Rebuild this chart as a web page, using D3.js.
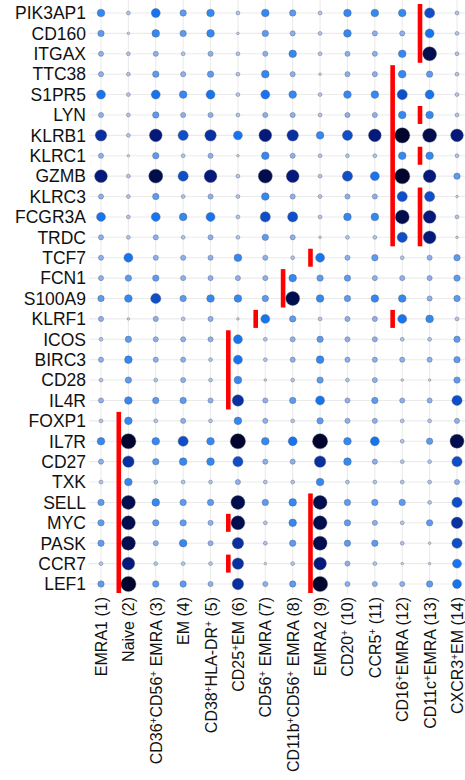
<!DOCTYPE html>
<html>
<head>
<meta charset="utf-8">
<script src="https://cdn.jsdelivr.net/npm/d3@7"></script>
<style>
  html, body { margin: 0; padding: 0; background: #fff; }
  svg { display: block; font-family: "Liberation Sans", Arial, sans-serif; }
</style>
</head>
<body>
<div id="chart"></div>
<script>
// Marker genes (rows, top to bottom)
const genes = ["PIK3AP1", "CD160", "ITGAX", "TTC38", "S1PR5", "LYN", "KLRB1", "KLRC1",
  "GZMB", "KLRC3", "FCGR3A", "TRDC", "TCF7", "FCN1", "S100A9", "KLRF1", "ICOS", "BIRC3",
  "CD28", "IL4R", "FOXP1", "IL7R", "CD27", "TXK", "SELL", "MYC", "PASK", "CCR7", "LEF1"];

// Clusters (columns); "⁺" is drawn as a superscript plus
const clusters = ["EMRA1 (1)", "Naive (2)", "CD36⁺CD56⁺ EMRA (3)", "EM (4)",
  "CD38⁺HLA-DR⁺ (5)", "CD25⁺EM (6)", "CD56⁺ EMRA (7)", "CD11b⁺CD56⁺ EMRA (8)",
  "EMRA2 (9)", "CD20⁺ (10)", "CCR5⁺ (11)", "CD16⁺EMRA (12)", "CD11c⁺EMRA (13)",
  "CXCR3⁺EM (14)"];

// Expression level per gene (0 = low .. 10 = high)
const levels = [
  [4,1,5,3,4,1,4,3,1,4,4,4,6,1],   // PIK3AP1
  [3,0,4,3,4,0,3,2,1,4,2,2,5,1],   // CD160
  [2,1,2,1,2,1,2,4,1,2,2,4,9,1],   // ITGAX
  [2,1,3,2,3,1,4,2,0,2,2,4,3,1],   // TTC38
  [5,1,5,4,5,1,5,4,1,4,4,6,5,1],   // S1PR5
  [2,1,3,2,2,1,2,2,1,2,2,4,4,1],   // LYN
  [7,1,8,6,7,5,8,7,4,6,8,10,9,8],  // KLRB1
  [2,0,3,1,2,0,4,2,1,1,1,4,4,1],   // KLRC1
  [8,1,9,6,8,1,9,8,1,6,5,10,8,3],  // GZMB
  [2,1,3,1,2,1,4,2,1,2,2,6,6,0],   // KLRC3
  [5,1,5,4,5,1,6,6,1,4,4,9,8,1],   // FCGR3A
  [2,1,2,1,2,1,3,2,0,1,1,6,8,0],   // TRDC
  [2,5,2,2,2,4,2,1,5,2,3,1,2,3],   // TCF7
  [2,3,3,2,2,2,2,4,3,3,2,2,2,3],   // FCN1
  [3,4,6,3,4,4,3,9,4,3,4,4,2,3],   // S100A9
  [2,0,2,1,2,0,5,3,1,2,2,5,4,1],   // KLRF1
  [1,3,2,2,2,5,1,2,3,2,2,1,1,3],   // ICOS
  [2,4,2,2,1,5,1,2,4,2,2,2,2,3],   // BIRC3
  [1,3,1,2,1,4,0,1,3,1,2,0,0,3],   // CD28
  [2,4,3,3,2,7,2,3,5,2,3,2,2,6],   // IL4R
  [1,4,1,2,1,4,2,1,3,2,2,1,1,2],   // FOXP1
  [4,10,4,6,4,10,4,5,10,4,5,1,3,9],// IL7R
  [2,7,3,4,4,6,2,2,7,4,2,1,1,6],   // CD27
  [1,4,1,1,1,2,1,1,4,1,1,1,1,2],   // TXK
  [3,9,4,3,3,9,3,4,9,3,3,3,1,6],   // SELL
  [3,9,3,3,2,9,1,4,9,3,2,1,3,7],   // MYC
  [3,9,2,4,2,7,1,3,9,3,3,1,0,6],   // PASK
  [1,8,1,1,1,7,0,1,8,2,1,0,0,5],   // CCR7
  [3,10,3,3,2,7,2,3,10,2,2,2,3,5]  // LEF1
];

// Red markers: cluster index, first gene, last gene
const markCluster = [12, 11, 12, 12, 12, 8, 7, 6, 11, 5, 1, 5, 5, 8];
const markFrom = ["PIK3AP1", "TTC38", "LYN", "KLRC1", "KLRC3", "TCF7", "FCN1", "KLRF1", "KLRF1", "ICOS", "FOXP1", "MYC", "CCR7", "SELL"];
const markTo   = ["ITGAX", "TRDC", "LYN", "KLRC1", "TRDC", "TCF7", "S100A9", "KLRF1", "KLRF1", "IL4R", "LEF1", "MYC", "CCR7", "LEF1"];

const W = 465, H = 780;
const svg = d3.select("#chart").append("svg").attr("width", W).attr("height", H);

const x = d3.scalePoint().domain(d3.range(clusters.length)).range([101, 457]);
const y = d3.scalePoint().domain(genes).range([13, 584]);

const rScale = d3.scaleLinear().domain([0, 10]).range([1.3, 7.6]);
const color = d3.scaleLinear()
  .domain([0, 1, 2, 3, 4, 5, 6, 7, 8, 9, 10])
  .range(["#c9d3ec", "#b2c4ee", "#8daff0", "#5c9bf0", "#3388f2", "#1675ee",
          "#0e4ec8", "#0830a0", "#04197a", "#020d4e", "#01052e"]);

// grid
const grid = svg.append("g");
grid.selectAll("line.h").data(genes).join("line")
  .attr("x1", 89).attr("x2", W).attr("y1", d => y(d)).attr("y2", d => y(d))
  .attr("stroke", "#ebebeb").attr("stroke-width", 1.1);
grid.selectAll("line.v").data(x.domain()).join("line")
  .attr("y1", 0).attr("y2", 594).attr("x1", d => x(d)).attr("x2", d => x(d))
  .attr("stroke", "#ebebeb").attr("stroke-width", 1.1);

// dots
const cells = [];
levels.forEach((row, i) => row.forEach((v, j) => cells.push({ gene: genes[i], col: j, v })));
svg.append("g").selectAll("circle").data(cells).join("circle")
  .attr("cx", d => x(d.col)).attr("cy", d => y(d.gene))
  .attr("r", d => rScale(d.v))
  .attr("fill", d => color(d.v))
  .attr("stroke", "#5a5f70").attr("stroke-opacity", 0.7).attr("stroke-width", 0.6);

// red marker bars
svg.append("g").selectAll("rect").data(markCluster).join("rect")
  .attr("x", d => x(d) - 9.6 - 2.3)
  .attr("width", 4.6)
  .attr("y", (d, i) => y(markFrom[i]) - 9)
  .attr("height", (d, i) => y(markTo[i]) - y(markFrom[i]) + 18)
  .attr("fill", "#ff0000");

// gene labels
svg.append("g").selectAll("text").data(genes).join("text")
  .attr("x", 86).attr("y", d => y(d))
  .attr("dy", "0.36em")
  .attr("text-anchor", "end")
  .attr("font-size", 17.5)
  .attr("fill", "#111")
  .text(d => d);

// cluster labels, rotated
const xl = svg.append("g").selectAll("text").data(clusters).join("text")
  .attr("transform", (d, i) => `translate(${x(i) + 6},597) rotate(-90)`)
  .attr("text-anchor", "end")
  .attr("font-size", 16)
  .attr("fill", "#111");
xl.each(function(d) {
  const t = d3.select(this);
  const parts = d.split("⁺");
  parts.forEach((p, k) => {
    if (p) t.append("tspan").text(p);
    if (k < parts.length - 1) {
      t.append("tspan").attr("font-size", 10).attr("baseline-shift", "super").text("+");
    }
  });
});
</script>
</body>
</html>
